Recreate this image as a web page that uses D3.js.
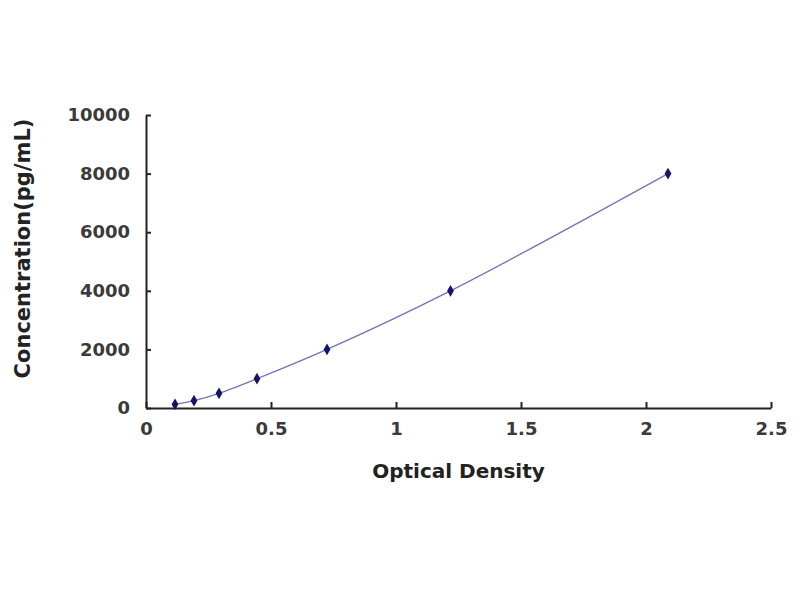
<!DOCTYPE html>
<html>
<head>
<meta charset="utf-8">
<script src="https://cdn.jsdelivr.net/npm/d3@7"></script>
<style>
  body { margin: 0; background: #fff; }
  text { font-family: "DejaVu Sans", Arial, sans-serif; font-weight: bold; }
</style>
</head>
<body>
<div id="chart"></div>
<script>
// standard curve values
const odValues = [0.116, 0.192, 0.292, 0.444, 0.724, 1.218, 2.088];
const concValues = [125, 250, 500, 1000, 2000, 4000, 8000];
const xTicks = [0, 0.5, 1, 1.5, 2, 2.5];
const yTicks = [0, 2000, 4000, 6000, 8000, 10000];

const points = odValues.map((d, i) => ({ od: d, conc: concValues[i] }));

const margin = { top: 115, right: 29, bottom: 192, left: 146 };
const width = 800 - margin.left - margin.right,
      height = 600 - margin.top - margin.bottom;

const svg = d3.select("#chart").append("svg")
    .attr("width", 800)
    .attr("height", 600)
    .append("g")
    .attr("transform", "translate(" + margin.left + "," + margin.top + ")");

const x = d3.scaleLinear().domain([0, 2.5]).range([0, width]);
const y = d3.scaleLinear().domain([0, 10000]).range([height, 0]);

// axes, ticks point inward like the Excel original
const xAxis = d3.axisBottom(x).tickValues(xTicks).tickSizeInner(-6).tickSizeOuter(0).tickPadding(14)
    .tickFormat(d => d);
const yAxis = d3.axisLeft(y).tickValues(yTicks).tickSizeInner(-5).tickSizeOuter(0).tickPadding(16)
    .tickFormat(d => d);

svg.append("g")
    .attr("class", "axis x-axis")
    .attr("transform", "translate(0," + height + ")")
    .call(xAxis);

svg.append("g")
    .attr("class", "axis y-axis")
    .call(yAxis);

svg.selectAll(".axis path, .axis line")
    .attr("stroke", "#222")
    .attr("stroke-width", 2);
svg.selectAll(".axis text")
    .attr("font-size", 18)
    .attr("fill", "#3a3a3a");

// fitted curve
const line = d3.line()
    .x(d => x(d.od))
    .y(d => y(d.conc))
    .curve(d3.curveCatmullRom);

svg.append("path")
    .datum(points)
    .attr("d", line)
    .attr("fill", "none")
    .attr("stroke", "#7373b8")
    .attr("stroke-width", 1.3);

// diamond markers
svg.selectAll(".pt")
    .data(points)
    .enter().append("path")
    .attr("class", "pt")
    .attr("d", d3.symbol().type(d3.symbolDiamond).size(40))
    .attr("transform", d => "translate(" + x(d.od) + "," + y(d.conc) + ")")
    .attr("fill", "#141464");

// axis titles
svg.append("text")
    .attr("x", width / 2)
    .attr("y", height + 70)
    .attr("text-anchor", "middle")
    .attr("font-size", 20)
    .attr("fill", "#222")
    .text("Optical Density");

svg.append("text")
    .attr("transform", "rotate(-90)")
    .attr("x", -height / 2 + 13)
    .attr("y", -116)
    .attr("text-anchor", "middle")
    .attr("font-size", 21)
    .attr("fill", "#222")
    .text("Concentration(pg/mL)");
</script>
</body>
</html>
